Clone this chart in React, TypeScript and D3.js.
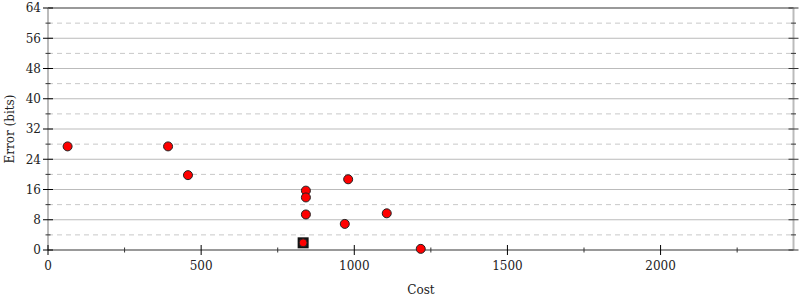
import React from "react";
import * as d3 from "d3";

const costs = [64, 392, 457, 842, 842, 842, 980, 969, 1106, 1217];
const errors = [27.4, 27.4, 19.8, 15.7, 13.9, 9.4, 18.7, 6.9, 9.7, 0.3];
const bestCost = [833];
const bestError = [1.9];
const xMajorTicks = [0, 500, 1000, 1500, 2000];
const xMinorTicks = [250, 750, 1250, 1750, 2250];
const yMajorTicks = [0, 8, 16, 24, 32, 40, 48, 56, 64];
const yMinorTicks = [4, 12, 20, 28, 36, 44, 52, 60];

const W = 800;
const H = 300;
const left = 48;
const right = 793.5;
const top = 8;
const bottom = 250;

export default function App() {
  const x = d3.scaleLinear().domain([0, 2 * d3.max(costs)!]).range([left, right]);
  const y = d3.scaleLinear().domain([0, 64]).range([bottom, top]);
  const font = "DejaVu Serif";
  return (
    <svg width={W} height={H} style={{ position: "absolute", left: 0, top: 0 }}>
      <rect x={0} y={0} width={W} height={H} fill="#fff" />
      {yMinorTicks.map((t) => (
        <line key={"gd" + t} x1={left} x2={right} y1={y(t)} y2={y(t)} stroke="#c8c8c8" strokeDasharray="5,4" strokeWidth={1} />
      ))}
      {yMajorTicks.filter((t) => t !== 0 && t !== 64).map((t) => (
        <line key={"gs" + t} x1={left} x2={right} y1={y(t)} y2={y(t)} stroke="#bbb" strokeWidth={1} />
      ))}
      {/* frame */}
      <line x1={left} x2={right} y1={top} y2={top} stroke="#999" strokeWidth={2} />
      <line x1={left} x2={left} y1={top} y2={bottom} stroke="#bbb" strokeWidth={2} />
      <line x1={right} x2={right} y1={top} y2={bottom} stroke="#bbb" strokeWidth={2} />
      <line x1={left} x2={right} y1={bottom} y2={bottom} stroke="#999" strokeWidth={2} />
      {/* y ticks */}
      {yMajorTicks.map((t) => (
        <g key={"ym" + t}>
          <line x1={left - 5} x2={left + 5} y1={y(t)} y2={y(t)} stroke="#000" strokeWidth={1} />
          <line x1={right - 5} x2={right + 5} y1={y(t)} y2={y(t)} stroke="#333" strokeWidth={1} />
          <text x={left - 7} y={y(t)} dy="0.36em" textAnchor="end" fontFamily={font} fontSize={12} fill="#222">{t}</text>
        </g>
      ))}
      {yMinorTicks.map((t) => (
        <g key={"yn" + t}>
          <line x1={left - 2.5} x2={left + 2.5} y1={y(t)} y2={y(t)} stroke="#333" strokeWidth={1} />
          <line x1={right - 2.5} x2={right + 2.5} y1={y(t)} y2={y(t)} stroke="#333" strokeWidth={1} />
        </g>
      ))}
      {/* x ticks */}
      {xMajorTicks.map((t) => (
        <g key={"xm" + t}>
          <line x1={x(t)} x2={x(t)} y1={bottom - 5} y2={bottom + 5} stroke="#000" strokeWidth={1} />
          <text x={x(t)} y={270} textAnchor="middle" fontFamily={font} fontSize={12} fill="#222">{t}</text>
        </g>
      ))}
      {xMinorTicks.map((t) => (
        <line key={"xn" + t} x1={x(t)} x2={x(t)} y1={bottom - 2.5} y2={bottom + 2.5} stroke="#333" strokeWidth={1} />
      ))}
      {/* best marker */}
      {bestCost.map((c, i) => (
        <g key={"b" + i}>
          <rect x={x(c) - 5.5} y={y(bestError[i]) - 5.5} width={11} height={11} fill="#111" />
          <circle cx={x(c)} cy={y(bestError[i])} r={4} fill="#f00" stroke="#222" strokeWidth={1} />
        </g>
      ))}
      {costs.map((c, i) => (
        <circle key={"p" + i} cx={x(c)} cy={y(errors[i])} r={4.5} fill="#f00" stroke="#222" strokeWidth={1} />
      ))}
      <text x={421} y={294} textAnchor="middle" fontFamily={font} fontSize={12} fill="#222">Cost</text>
      <text transform={`translate(14,${(top + bottom) / 2}) rotate(-90)`} textAnchor="middle" fontFamily={font} fontSize={12} fill="#222">Error (bits)</text>
    </svg>
  );
}
